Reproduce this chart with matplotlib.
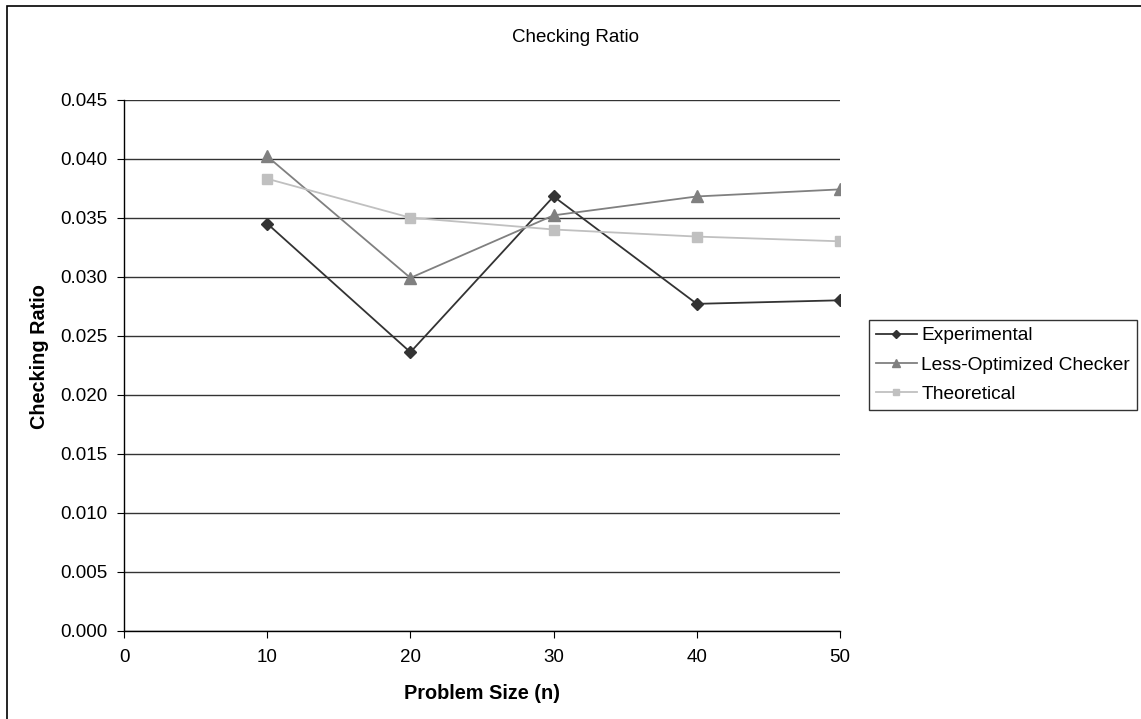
import matplotlib.pyplot as plt
from matplotlib.patches import Rectangle

plt.rcParams['font.family'] = ['Liberation Sans', 'DejaVu Sans']

problem_size = [10, 20, 30, 40, 50]
experimental = [0.0345, 0.0236, 0.0368, 0.0277, 0.0280]
less_optimized = [0.0402, 0.0299, 0.0352, 0.0368, 0.0374]
theoretical = [0.0383, 0.0350, 0.0340, 0.0334, 0.0330]

fig = plt.figure(figsize=(11.41, 7.19), dpi=100)
W, H = 1141, 719
# axes placed in pixel coordinates: left 124, right 840, top 99.7, bottom 630.7
ax = fig.add_axes([124 / W, 1 - 630.7 / H, (840 - 124) / W, (630.7 - 99.7) / H])

ax.plot(problem_size, experimental, color='#333333', lw=1.3, marker='D',
        ms=6, label='Experimental')
ax.plot(problem_size, less_optimized, color='#808080', lw=1.3, marker='^',
        ms=8, label='Less-Optimized Checker')
ax.plot(problem_size, theoretical, color='#c0c0c0', lw=1.3, marker='s',
        ms=6.5, label='Theoretical')

ax.set_xlim(0, 50)
ax.set_ylim(0, 0.045)
ax.set_xticks([0, 10, 20, 30, 40, 50])
ax.set_yticks([i * 0.005 for i in range(10)])
ax.set_yticklabels([f"{i * 0.005:.3f}" for i in range(10)])
ax.yaxis.grid(True, color='#333333', lw=1.0)
ax.set_axisbelow(True)
for s in ['top', 'right']:
    ax.spines[s].set_visible(False)
for s in ['left', 'bottom']:
    ax.spines[s].set_color('black')
    ax.spines[s].set_linewidth(1.0)
ax.tick_params(axis='both', labelsize=13.5, length=5, color='black')
ax.tick_params(axis='y', pad=7)
ax.tick_params(axis='x', pad=8)

ax.set_xlabel('Problem Size (n)', fontsize=14.3, fontweight='bold', labelpad=13)
ax.set_ylabel('Checking Ratio', fontsize=14.3, fontweight='bold')
ax.yaxis.set_label_coords(49 / W, 1 - 357 / H, transform=fig.transFigure)
fig.text(576 / W, 1 - 37 / H, 'Checking Ratio', ha='center', va='center', fontsize=13.5)

leg = ax.legend(loc='center left', bbox_to_anchor=(869 / W, 1 - 365 / H),
                bbox_transform=fig.transFigure, fontsize=13.8, frameon=True,
                fancybox=False, edgecolor='black', borderpad=0.38,
                handlelength=2.1, handletextpad=0.25, labelspacing=0.62,
                borderaxespad=0, markerscale=0.7)
leg.get_frame().set_linewidth(1.0)

# outer chart border
fig.patches.append(Rectangle((7 / W, 1 - 760 / H), 1200 / W, 754 / H,
                             transform=fig.transFigure, fill=False,
                             edgecolor='black', lw=1.2))

fig.savefig('out.png', dpi=100)
